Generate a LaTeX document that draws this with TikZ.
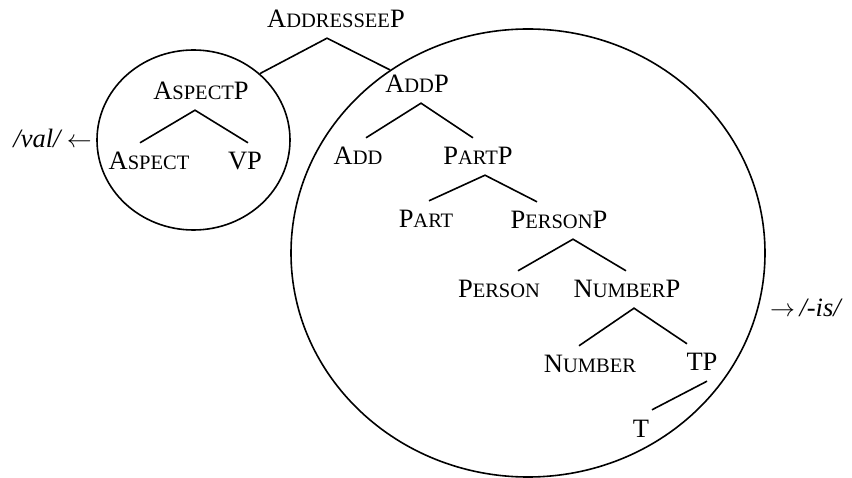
\documentclass[tikz,border=0pt]{standalone}
\usepackage{fontspec}
\setmainfont{Liberation Serif}
\usepackage{tikz}
\usetikzlibrary{shapes.geometric}

% small capitals: first letter full size, rest smaller
\newcommand{\sca}[2]{#1{\fontsize{20.5pt}{21pt}\selectfont #2}}

\begin{document}
\begin{tikzpicture}[x=1pt, y=-1pt,
  cat/.style={inner xsep=0pt, inner ysep=10pt, text height=17pt, text depth=0pt,
    anchor=base, font=\fontsize{26.5pt}{30pt}\selectfont},
  note/.style={inner sep=0pt, font=\fontsize{26.5pt}{30pt}\selectfont},
  ring/.style={draw, ellipse, inner sep=0pt, line width=1.6pt},
  branch/.style={line width=1.6pt}]
\useasboundingbox (0,0) rectangle (852,478);

% Cercuri
\node[ring, minimum width=193pt, minimum height=180pt] (aspring) at (193.5,140) {};
\node[ring, minimum width=474pt, minimum height=448pt] (addring) at (528,253) {};

% Radacina
\node[cat] (addresseep) at (336,28) {\sca{A}{DDRESSEE}P};

% Ramura stanga
\node[cat] (aspectp) at (201,100) {\sca{A}{SPECT}P};
\node[cat] (aspect) at (149,170) {\sca{A}{SPECT}};
\node[cat] (vp) at (245,170) {VP};

% Ramura dreapta
\node[cat] (addp) at (417,93) {\sca{A}{DD}P};
\node[cat] (add) at (358,165) {\sca{A}{DD}};
\node[cat] (partp) at (478,165) {\sca{P}{ART}P};
\node[cat] (part) at (426,228) {\sca{P}{ART}};
\node[cat] (personp) at (559,229) {\sca{P}{ERSON}P};
\node[cat] (person) at (499,298) {\sca{P}{ERSON}};
\node[cat] (numberp) at (627,298) {\sca{N}{UMBER}P};
\node[cat] (number) at (590,373) {\sca{N}{UMBER}};
\node[cat] (tp) at (702,371) {TP};
\node[cat] (t) at (641,437) {T};

% Exponenti
\node[note, anchor=base east] (val) at (92,148) {\textit{/val/}\,$\leftarrow$};
\node[note, anchor=base west] (is) at (770,317) {$\rightarrow$\,\textit{/-is/}};

% Ramuri
\draw[branch] (aspring.45) -- ([xshift=-9pt]addresseep.south) -- (addring.127.5);
\draw[branch] ([xshift=-9pt]aspect.north) -- ([xshift=-6pt]aspectp.south) -- ([xshift=3pt]vp.north);
\draw[branch] ([xshift=8pt]add.north) -- ([xshift=4pt]addp.south) -- ([xshift=-5pt]partp.north);
\draw[branch] ([xshift=3pt]part.north) -- ([xshift=7pt]partp.south) -- ([xshift=-22pt]personp.north);
\draw[branch] ([xshift=19pt]person.north) -- ([xshift=14pt]personp.south) -- ([xshift=-1pt]numberp.north);
\draw[branch] ([xshift=-11pt]number.north) -- ([xshift=7pt]numberp.south) -- ([xshift=-15pt]tp.north);
\draw[branch] ([xshift=11pt]t.north) -- ([xshift=5pt]tp.south);

\end{tikzpicture}
\end{document}
